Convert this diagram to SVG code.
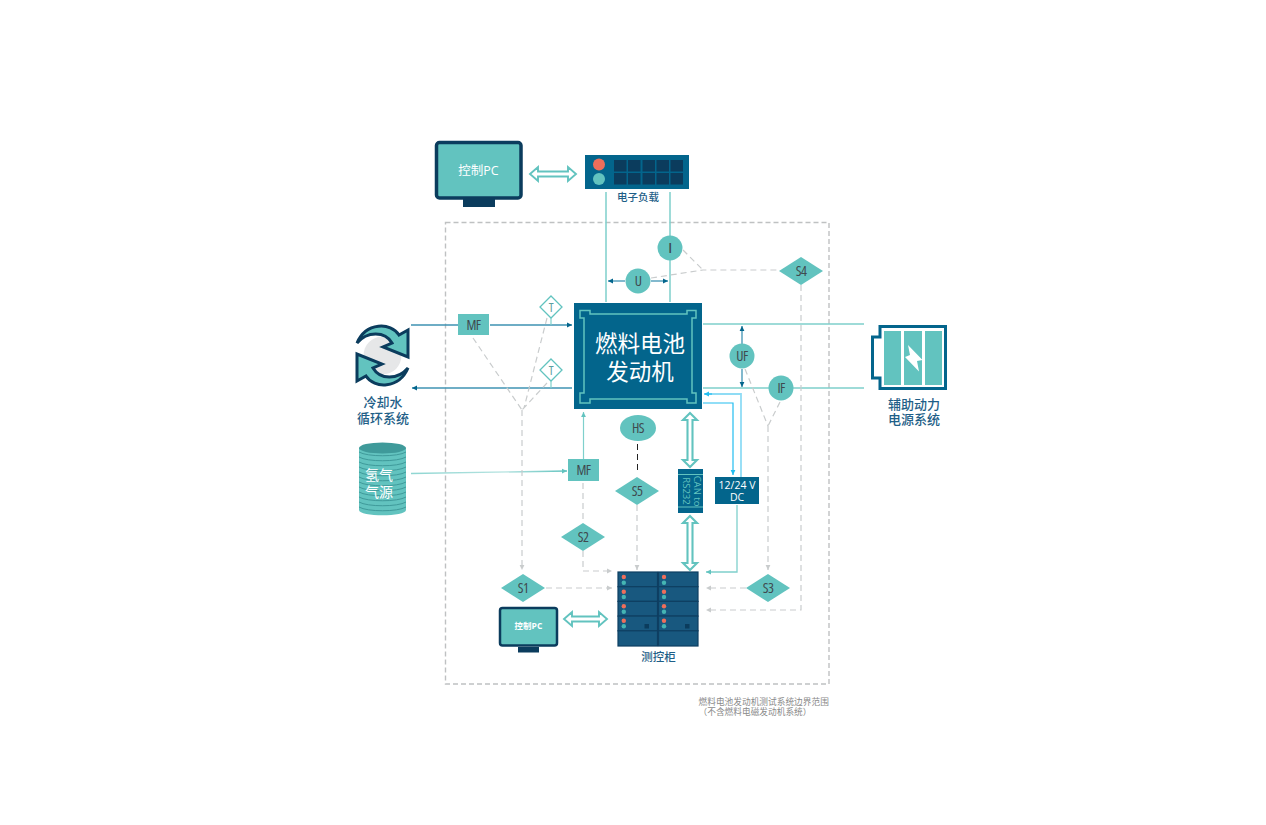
<svg xmlns="http://www.w3.org/2000/svg" width="1266" height="825" viewBox="0 0 1266 825">
<style>
text{font-family:"Liberation Sans","Noto Sans CJK SC",sans-serif;text-anchor:middle}
.lat{font-family:"Open Sans","Noto Sans CJK SC",sans-serif;font-size:14px;font-stretch:condensed;fill:#3f4a4f;letter-spacing:-.6px}
.pc{font-family:"Open Sans","Noto Sans CJK SC",sans-serif}
.cap{font-size:13px;font-weight:500;fill:#1f5f88}
.w{fill:#fff}
.t{fill:#62c3bf}
.navy{fill:#0b3c5d}
.blue{fill:#03658c}
.ln{fill:none;stroke:#7fd0cc;stroke-width:1.5}
.bl{fill:none;stroke:#3f93b3;stroke-width:1.3}
.dash{fill:none;stroke:#c9cccd;stroke-width:1.2;stroke-dasharray:6 4}
.hol{fill:#fff;stroke:#62c3bf;stroke-width:1.6}
.row{fill:#18587f;stroke:#0e3f62;stroke-width:1.2}
.r{fill:#ee6e5b}.g{fill:#45b5b3}
.note{font-size:8.7px;fill:#8a8a8a}
</style>
<defs>
<marker id="aB" markerUnits="userSpaceOnUse" markerWidth="6" markerHeight="6" refX="5" refY="3" orient="auto"><path d="M0,.6L5,3L0,5.4z" fill="#03658c"/></marker>
<marker id="aT" markerUnits="userSpaceOnUse" markerWidth="6" markerHeight="6" refX="5" refY="3" orient="auto"><path d="M0,.6L5,3L0,5.4z" fill="#62c3bf"/></marker>
<marker id="aC" markerUnits="userSpaceOnUse" markerWidth="6" markerHeight="6" refX="5" refY="3" orient="auto"><path d="M0,.6L5,3L0,5.4z" fill="#22bdf0"/></marker>
<marker id="aG" markerUnits="userSpaceOnUse" markerWidth="6" markerHeight="6" refX="5" refY="3" orient="auto"><path d="M0,.6L5,3L0,5.4z" fill="#c9cccd"/></marker>
<linearGradient id="h2" gradientUnits="userSpaceOnUse" x1="411" x2="567" y1="0" y2="0"><stop offset="0" stop-color="#8fd6d2"/><stop offset=".6" stop-color="#b5e3e0"/><stop offset="1" stop-color="#62c3bf"/></linearGradient>
</defs>
<rect width="1266" height="825" fill="#fff"/>
<g id="boundary">
<rect x="445.500" y="222.500" width="383.500" height="461.500" fill="none" stroke="#bfc1c2" stroke-width="1.400" stroke-dasharray="5 3"/>
<text class="note" style="text-anchor:start"><tspan x="698.500" y="705">燃料电池发动机测试系统边界范围</tspan><tspan x="698.500" y="715">（不含燃料电磁发动机系统）</tspan></text>
</g>
<g id="connectors">
<path class="ln" d="M606,192V302M670,192V302M703,324H864M703,388H864"/>
<path class="bl" d="M411,325H458M490,325H572" marker-end="url(#aB)"/>
<path class="bl" d="M572,388H412" marker-end="url(#aB)"/>
<path class="bl" d="M625,281H608" marker-end="url(#aB)"/>
<path class="bl" d="M651,281H668" marker-end="url(#aB)"/>
<path class="bl" d="M742,344V326" marker-end="url(#aB)"/>
<path class="bl" d="M742,369V387" marker-end="url(#aB)"/>
<path d="M411,473.500L567,471" stroke="url(#h2)" stroke-width="1.400" fill="none" marker-end="url(#aT)"/>
<path class="ln" style="stroke-width:1.200" d="M583.500,459V412" marker-end="url(#aT)"/>
<path class="ln" style="stroke-width:1.300" d="M737,505V572H706" marker-end="url(#aT)"/>
<path fill="none" stroke="#22bdf0" stroke-width="1.200" d="M703,403H733V475" marker-end="url(#aC)"/>
<path fill="none" stroke="#8fdcf5" stroke-width="1.800" d="M741,477V394H705"/>
<path fill="none" stroke="#22bdf0" stroke-width="1.200" d="M712,394H704" marker-end="url(#aC)"/>
<path class="dash" d="M473,338L522,410M547,318L524,408M547,383L522,410"/>
<path class="dash" d="M522,410V570" marker-end="url(#aG)"/>
<path class="dash" d="M546,588H612" marker-end="url(#aG)"/>
<path class="dash" d="M583,483V523"/>
<path class="dash" d="M583,551V571H612" marker-end="url(#aG)"/>
<path d="M637.500,444V471" fill="none" stroke="#222" stroke-width="1" stroke-dasharray="6 4"/>
<path class="dash" d="M637,505V570" marker-end="url(#aG)"/>
<path class="dash" d="M683,250L703,270M651,278L703,270H779"/>
<path class="dash" d="M801,285V610H706" marker-end="url(#aG)"/>
<path class="dash" d="M745,369L768,426M780,402L768,426"/>
<path class="dash" d="M768,426V570" marker-end="url(#aG)"/>
<path class="dash" d="M746,588H706" marker-end="url(#aG)"/>
<path class="hol" style="stroke-width:1.900" d="M530,174L538,167V171.500H568V167L576,174L568,181V176.500H538V181Z"/>
<path class="hol" style="stroke-width:1.900" d="M564,619L572,612V616.500H599V612L607,619L599,626V621.500H572V626Z"/>
<path class="hol" style="stroke-width:2.100" d="M690,413L697,420H692.500V460H697L690,467L683,460H687.500V420H683Z"/>
<path class="hol" style="stroke-width:2.100" d="M690,516L697,523H692.500V563H697L690,570L683,563H687.500V523H683Z"/>
</g>
<g id="pc-top">
<rect x="436.500" y="142.500" width="84.500" height="55.500" rx="3" class="t" stroke="#0b3c5d" stroke-width="3.500"/>
<rect x="463" y="199" width="32" height="8" class="navy"/>
<text x="478.500" y="175" class="w pc" style="font-size:12.500px">控制PC</text>
</g>
<g id="load">
<rect x="585" y="155" width="104" height="34" class="blue"/>
<circle cx="599" cy="164.500" r="6" class="r"/><circle cx="599" cy="179" r="6" class="t"/>
<g class="navy"><rect x="614" y="160" width="12.500" height="11.500"/><rect x="628" y="160" width="12.500" height="11.500"/><rect x="642.500" y="160" width="12.500" height="11.500"/><rect x="656.500" y="160" width="12.500" height="11.500"/><rect x="670.500" y="160" width="12.500" height="11.500"/><rect x="614" y="173" width="12.500" height="11.500"/><rect x="628" y="173" width="12.500" height="11.500"/><rect x="642.500" y="173" width="12.500" height="11.500"/><rect x="656.500" y="173" width="12.500" height="11.500"/><rect x="670.500" y="173" width="12.500" height="11.500"/></g>
<text x="638" y="201" class="cap" style="font-size:10.500px">电子负载</text>
</g>
<g id="sensor-I"><circle cx="670" cy="248" r="12.500" class="t"/><text x="670" y="253" class="lat" style="font-weight:600">I</text></g>
<g id="sensor-U"><circle cx="638" cy="281" r="12.500" class="t"/><text x="638" y="286" class="lat">U</text></g>
<g id="engine">
<rect x="574" y="303" width="128" height="106" class="blue"/>
<path d="M590,314H687V310.500H696V318H692V393H696V403H687V399H590V403H580V393H584V318H580V310.500H590Z" fill="none" stroke="#62c3bf" stroke-width="1.500"/>
<text class="w" style="font-size:22.500px;font-weight:400"><tspan x="640" y="352">燃料电池</tspan><tspan x="640" y="380">发动机</tspan></text>
</g>
<g id="mf-1"><rect x="458" y="314" width="31" height="21" class="t"/><text x="473.500" y="330" class="lat">MF</text></g>
<g id="t-1"><path d="M551,296L562,307L551,318L540,307Z" fill="#fff" stroke="#62c3bf" stroke-width="1.300"/><path class="ln" style="stroke-width:1.200" d="M551,318V325"/><text x="551" y="312" class="lat" style="font-size:13px;fill:#5a9fa0">T</text></g>
<g id="t-2"><path d="M551,359L562,370L551,381L540,370Z" fill="#fff" stroke="#62c3bf" stroke-width="1.300"/><path class="ln" style="stroke-width:1.200" d="M551,381V388"/><text x="551" y="375" class="lat" style="font-size:13px;fill:#5a9fa0">T</text></g>
<g id="coolant">
<circle cx="382.500" cy="355.500" r="19" fill="#e6e7e8"/>
<path d="M357,343C366,322 391,322 399,335L408,330V357L383,347L392,343C385,331 367,331 357,343Z" class="t" stroke="#0b3c5d" stroke-width="3"/>
<path d="M408,368C399,389 374,389 366,376L357,381V354L382,364L373,368C380,380 398,380 408,368Z" class="t" stroke="#0b3c5d" stroke-width="3"/>
<text class="cap"><tspan x="383" y="407">冷却水</tspan><tspan x="383" y="423">循环系统</tspan></text>
</g>
<g id="hydrogen">
<path d="M359,448V510C359,517 406,517 406,510V448Z" class="t"/>
<path d="M359,452c8,5 39,5 47,0M359,457c8,5 39,5 47,0M359,462c8,5 39,5 47,0M359,467c8,5 39,5 47,0M359,472c8,5 39,5 47,0M359,477c8,5 39,5 47,0M359,482c8,5 39,5 47,0M359,487c8,5 39,5 47,0M359,492c8,5 39,5 47,0M359,497c8,5 39,5 47,0M359,502c8,5 39,5 47,0M359,507c8,5 39,5 47,0" fill="none" stroke="#3f9a9a" stroke-width="1"/>
<ellipse cx="382.500" cy="448" rx="23.500" ry="5.500" fill="#3f9a9a"/>
<text class="w" style="font-size:14px"><tspan x="379" y="480">氢气</tspan><tspan x="379" y="497">气源</tspan></text>
</g>
<g id="mf-2"><rect x="568" y="459" width="31" height="22" class="t"/><text x="583.500" y="475" class="lat">MF</text></g>
<g id="hs"><ellipse cx="638" cy="428" rx="18" ry="13" class="t"/><text x="638" y="433" class="lat">HS</text></g>
<g id="s5"><path d="M637,477L659,491L637,505L615,491Z" class="t"/><text x="637" y="496" class="lat">S5</text></g>
<g id="s2"><path d="M583,523L605,537L583,551L561,537Z" class="t"/><text x="583" y="542" class="lat">S2</text></g>
<g id="s1"><path d="M523,574L545,588L523,602L501,588Z" class="t"/><text x="523" y="593" class="lat">S1</text></g>
<g id="s3"><path d="M768,574L790,588L768,602L746,588Z" class="t"/><text x="768" y="593" class="lat">S3</text></g>
<g id="s4"><path d="M801,257L823,271L801,285L779,271Z" class="t"/><text x="801" y="276" class="lat">S4</text></g>
<g id="uf"><circle cx="742" cy="356" r="12.500" class="t"/><text x="742" y="361" class="lat">UF</text></g>
<g id="if"><circle cx="781" cy="388" r="12.500" class="t"/><text x="781" y="393" class="lat">IF</text></g>
<g id="can">
<rect x="678" y="469" width="25" height="44" class="blue"/>
<path d="M678,474.500H703M678,507H703" stroke="#62c3bf" stroke-width="1" fill="none"/>
<text transform="translate(693.500,491) rotate(90)" style="font-family:'Open Sans',sans-serif;font-size:9.500px;fill:#62c3bf">CAN to</text>
<text transform="translate(682.500,491) rotate(90)" style="font-family:'Open Sans',sans-serif;font-size:9.500px;fill:#62c3bf">RS232</text>
</g>
<g id="dc">
<rect x="715" y="477" width="44" height="27" class="blue"/>
<text class="w" style="font-family:'Open Sans',sans-serif;font-size:10.500px"><tspan x="737" y="488.500">12/24 V</tspan><tspan x="737" y="501">DC</tspan></text>
</g>
<g id="battery">
<path d="M880,326.500H945.500V388.500H880V378H872.500V337H880Z" fill="#fff" stroke="#03658c" stroke-width="3"/>
<rect x="884" y="331" width="17" height="54" class="t"/><rect x="904" y="331" width="18" height="54" class="t"/><rect x="925" y="331" width="17" height="54" class="t"/>
<path d="M908,345L922.500,360L917,361L919,371.500L905,357L910,355Z" class="w"/>
<text class="cap"><tspan x="914" y="409">辅助动力</tspan><tspan x="914" y="424">电源系统</tspan></text>
</g>
<g id="cabinet">
<rect x="618" y="572" width="39.500" height="14.700" class="row"/><rect x="618" y="586.700" width="39.500" height="14.700" class="row"/><rect x="618" y="601.400" width="39.500" height="14.700" class="row"/><rect x="618" y="616.100" width="39.500" height="14.700" class="row"/><rect x="618" y="630.800" width="39.500" height="15.200" class="row"/>
<rect x="658.500" y="572" width="39.500" height="14.700" class="row"/><rect x="658.500" y="586.700" width="39.500" height="14.700" class="row"/><rect x="658.500" y="601.400" width="39.500" height="14.700" class="row"/><rect x="658.500" y="616.100" width="39.500" height="14.700" class="row"/><rect x="658.500" y="630.800" width="39.500" height="15.200" class="row"/>
<g class="r"><circle cx="623.800" cy="577" r="2.200"/><circle cx="623.800" cy="591.700" r="2.200"/><circle cx="623.800" cy="606.300" r="2.200"/><circle cx="623.800" cy="620.700" r="2.200"/><circle cx="664" cy="577" r="2.200"/><circle cx="664" cy="591.700" r="2.200"/><circle cx="664" cy="606.300" r="2.200"/><circle cx="664" cy="620.700" r="2.200"/></g>
<g class="g"><circle cx="623.800" cy="582.700" r="2.200"/><circle cx="623.800" cy="597" r="2.200"/><circle cx="623.800" cy="611.700" r="2.200"/><circle cx="623.800" cy="626.300" r="2.200"/><circle cx="664" cy="582.700" r="2.200"/><circle cx="664" cy="597" r="2.200"/><circle cx="664" cy="611.700" r="2.200"/><circle cx="664" cy="626.300" r="2.200"/></g>
<rect x="644.500" y="624" width="4.500" height="4.500" class="navy"/><rect x="685" y="624" width="4.500" height="4.500" class="navy"/>
<text x="658.500" y="661" class="cap" style="font-size:11.500px">测控柜</text>
</g>
<g id="pc-bottom">
<rect x="500" y="608" width="57" height="37.500" rx="2.500" class="t" stroke="#0b3c5d" stroke-width="2.500"/>
<rect x="518" y="647" width="21" height="5.500" class="navy"/>
<text x="528.500" y="629" class="w pc" style="font-size:8.500px;font-weight:700">控制PC</text>
</g>
</svg>
